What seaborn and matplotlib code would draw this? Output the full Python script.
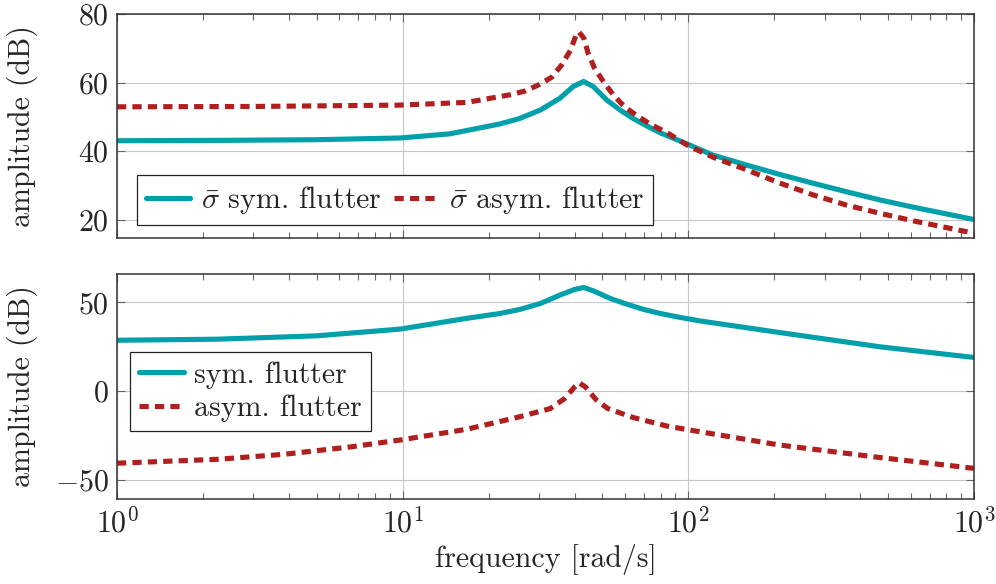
import numpy as np
import pandas as pd
import matplotlib
matplotlib.use("Agg")
import matplotlib.pyplot as plt
import matplotlib.ticker as mticker
import seaborn as sns

# ---- data ----
top_sym_f = [1, 2.24, 5.0, 9.8, 14.6, 21.9, 25.7, 30.4, 35.5, 39.5, 43.0, 46.5, 51.8, 57.6,
             64.1, 71.6, 79.8, 90, 101, 122, 160, 208, 273, 358, 469, 613, 1000]
top_sym_db = [43.0, 43.1, 43.3, 43.8, 45.0, 47.9, 49.5, 52.0, 55.4, 58.8, 60.3, 58.8, 54.9, 52.0,
              49.5, 47.3, 45.3, 43.5, 41.75, 38.8, 35.9, 33.2, 30.6, 28.1, 25.7, 23.6, 20.0]

top_asym_f = [1, 3.0, 9.8, 16.8, 23.7, 26.8, 29.9, 33.2, 36.0, 38.6, 40.5, 41.4, 43.1, 44.6,
              47.0, 50.5, 54.6, 59.8, 65.6, 73.3, 84, 101, 122, 160, 208, 273, 358, 469, 613, 1000]
top_asym_db = [52.9, 53.0, 53.4, 54.2, 56.4, 57.5, 59.3, 61.5, 65.1, 69.3, 73.9, 74.8, 72.9, 68.5,
               64.1, 60.2, 56.4, 52.9, 50.5, 47.9, 45.4, 41.3, 38.2, 34.5, 30.7, 27.2, 24.2, 21.8, 19.6, 16.0]

bot_sym_f = [1, 2.24, 5.0, 9.8, 16.8, 21.9, 25.7, 30.4, 35.5, 40.0, 43.0, 46.5, 53.3, 60.8,
             69.8, 79.8, 93.6, 110, 208, 469, 1000]
bot_sym_db = [28.6, 29.2, 31.1, 34.9, 41.0, 43.7, 46.0, 49.4, 54.1, 57.3, 58.4, 56.5, 52.2, 49.0,
              46.0, 43.7, 41.5, 39.5, 33.0, 24.9, 18.9]

bot_asym_f = [1, 2.24, 3.83, 6.56, 9.8, 14.1, 16.8, 25.1, 32.8, 36.9, 40.0, 41.4, 43.6, 47.5,
              52.3, 64.1, 84, 104, 208, 469, 1000]
bot_asym_db = [-40.8, -38.6, -35.8, -31.6, -27.7, -23.6, -21.6, -15.0, -10.0, -4.3, 2.3, 4.6, 2.3, -4.9,
               -10.0, -15.0, -19.8, -22.4, -30.5, -37.6, -43.7]

top_labels = [r"$\bar{\sigma}$ sym. flutter", r"$\bar{\sigma}$ asym. flutter"]
bot_labels = ["sym. flutter", "asym. flutter"]
x_label = "frequency [rad/s]"
y_label = "amplitude (dB)"

# ---- style ----
sns.set_theme(style="white")
plt.rcParams["font.family"] = ["cmr10", "DejaVu Serif"]
plt.rcParams["mathtext.fontset"] = "cm"
plt.rcParams["axes.formatter.use_mathtext"] = True
plt.rcParams["axes.unicode_minus"] = True

TEAL = "#00A0AA"
RED = "#B01E1E"
FS = 21.5
LW = 3.7
DASH = (0, (1.8, 1.2))

fig = plt.figure(figsize=(9.96, 5.84), dpi=100)
ax1 = fig.add_axes([117 / 996, 1 - 238 / 584, 857 / 996, 224 / 584])
ax2 = fig.add_axes([117 / 996, 1 - 499 / 584, 857 / 996, 225 / 584])


def draw(ax, f1, v1, f2, v2, labels):
    d1 = pd.DataFrame({"f": f1, "v": v1})
    d2 = pd.DataFrame({"f": f2, "v": v2})
    sns.lineplot(data=d1, x="f", y="v", ax=ax, color=TEAL, lw=LW, label=labels[0],
                 estimator=None, sort=False)
    sns.lineplot(data=d2, x="f", y="v", ax=ax, color=RED, lw=LW, label=labels[1],
                 estimator=None, sort=False, linestyle=DASH)
    for ln in ax.get_lines():
        ln.set_solid_joinstyle("round")
        ln.set_dash_joinstyle("round")


draw(ax1, top_sym_f, top_sym_db, top_asym_f, top_asym_db, top_labels)
draw(ax2, bot_sym_f, bot_sym_db, bot_asym_f, bot_asym_db, bot_labels)

for ax in (ax1, ax2):
    ax.set_xscale("log")
    ax.set_xlim(1, 1000)
    ax.xaxis.set_major_locator(mticker.LogLocator(base=10, numticks=10))
    ax.xaxis.set_minor_locator(mticker.LogLocator(base=10, subs=np.arange(2, 10), numticks=20))
    ax.xaxis.set_minor_formatter(mticker.NullFormatter())
    ax.grid(True, which="major", color="#C8C8C8", lw=0.8)
    ax.set_axisbelow(True)
    ax.tick_params(which="both", direction="in", top=True, right=True, bottom=True, left=True,
                   labelsize=FS, color="#666666", width=0.8)
    ax.tick_params(which="major", length=6, pad=6)
    ax.tick_params(which="minor", length=4)
    for s in ax.spines.values():
        s.set_color("#333333")
        s.set_linewidth(1.1)
    ax.set_ylabel(y_label, fontsize=FS)
    ax.yaxis.set_label_coords(-0.092, 0.5)
    ax.set_xlabel("")

ax1.set_ylim(14.6, 80)
ax1.set_yticks([20, 40, 60, 80])
ax1.tick_params(axis="x", labelbottom=False)

ax2.set_ylim(-61, 66)
ax2.set_yticks([-50, 0, 50])
ax2.set_xlabel(x_label, fontsize=FS)
ax2.xaxis.set_label_coords(0.5, -0.2)

leg_kw = dict(fontsize=FS, frameon=True, fancybox=False, framealpha=1, edgecolor="#222222",
              handlelength=1.5, handletextpad=0.35, borderpad=0.3, borderaxespad=0,
              loc="lower left")
l1 = ax1.legend(ncol=2, columnspacing=0.4, bbox_to_anchor=(0.023, 0.058), **leg_kw)
l2 = ax2.legend(ncol=1, labelspacing=0.2, bbox_to_anchor=(0.015, 0.302), **leg_kw)
for lg in (l1, l2):
    lg.get_frame().set_linewidth(0.9)

fig.savefig("out.png", dpi=100)
